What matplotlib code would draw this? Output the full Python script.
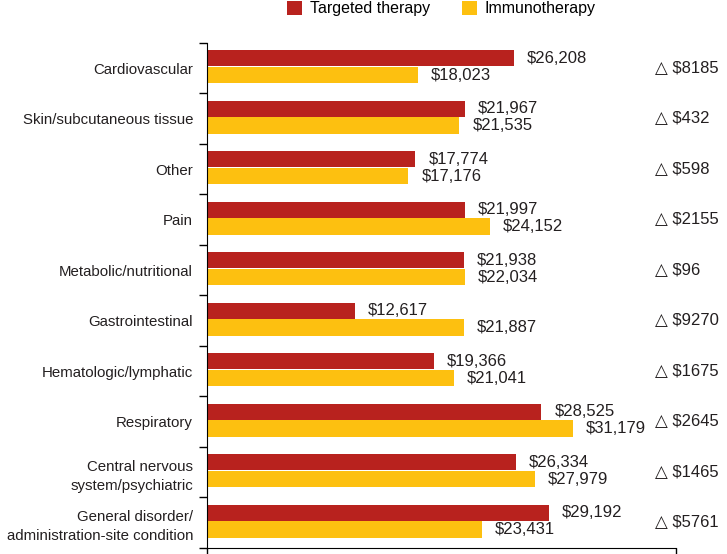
import matplotlib.pyplot as plt
import numpy as np

plt.rcParams['font.family'] = ['Liberation Sans', 'DejaVu Sans']

categories = [
    "Cardiovascular",
    "Skin/subcutaneous tissue",
    "Other",
    "Pain",
    "Metabolic/nutritional",
    "Gastrointestinal",
    "Hematologic/lymphatic",
    "Respiratory",
    "Central nervous\nsystem/psychiatric",
    "General disorder/\nadministration-site condition",
]
targeted = [26208, 21967, 17774, 21997, 21938, 12617, 19366, 28525, 26334, 29192]
immuno = [18023, 21535, 17176, 24152, 22034, 21887, 21041, 31179, 27979, 23431]
deltas = [8185, 432, 598, 2155, 96, 9270, 1675, 2645, 1465, 5761]

red = "#B8221E"
yellow = "#FDC010"
txt = "#231F20"

fig = plt.figure(figsize=(7.27, 5.54), dpi=100)
ax = fig.add_axes([207 / 727, 6 / 554, 469 / 727, 505 / 554])

y = np.arange(len(categories))
h = 0.32
off = 0.165
shift = -0.03

ax.barh(y - off + shift, targeted, height=h, color=red, label="Targeted therapy")
ax.barh(y + off + shift, immuno, height=h, color=yellow, label="Immunotherapy")

for i in range(len(categories)):
    ax.text(targeted[i] + 1100, y[i] - off + shift, f"${targeted[i]:,}",
            va="center", ha="left", fontsize=12, color=txt)
    ax.text(immuno[i] + 1100, y[i] + off + shift, f"${immuno[i]:,}",
            va="center", ha="left", fontsize=12, color=txt)
    ax.text(0.955, y[i], f"\u25B3 ${deltas[i]}", transform=ax.get_yaxis_transform(),
            va="center", ha="left", fontsize=12, color=txt)

ax.set_xlim(0, 40000)
ax.set_ylim(len(categories) - 0.5, -0.5)
ax.set_yticks(y)
ax.set_yticklabels(categories, fontsize=10.8, color=txt, linespacing=1.45)
ax.set_yticks(np.arange(len(categories) + 1) - 0.5, minor=True)
ax.tick_params(axis="y", which="major", length=0, pad=10)
ax.tick_params(axis="y", which="minor", length=6, width=1)
ax.set_xticks([0, 40000])
ax.set_xticklabels([])
ax.tick_params(axis="x", length=8, width=1)

ax.spines["top"].set_visible(False)
ax.spines["right"].set_visible(False)

fig.legend(loc="upper center", bbox_to_anchor=(0.607, 1.024), ncol=2, frameon=False,
           fontsize=11.5, handlelength=0.95, handleheight=0.95, columnspacing=2.0,
           handletextpad=0.5)

fig.savefig("out.png", dpi=100)
